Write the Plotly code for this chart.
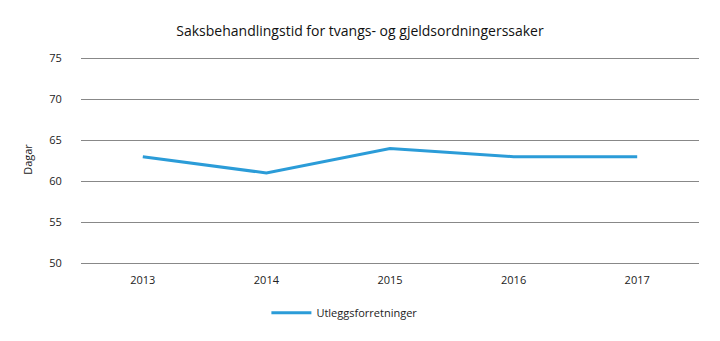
import plotly.graph_objects as go

years = ["2013", "2014", "2015", "2016", "2017"]
utlegg = [63, 61, 64, 63, 63]
y_ticks = [50, 55, 60, 65, 70, 75]

FONT = "Open Sans"

fig = go.Figure()
fig.add_trace(go.Scatter(
    x=years, y=utlegg, mode="lines", name="Utleggsforretninger",
    line=dict(color="#2b9cd8", width=3),
))

fig.update_layout(
    width=720, height=341,
    margin=dict(l=81, r=21, t=56, b=78),
    paper_bgcolor="white", plot_bgcolor="white",
    font=dict(family=FONT, size=11, color="#222"),
    title=dict(text="Saksbehandlingstid for tvangs- og gjeldsordningerssaker",
               x=0.5, xanchor="center", y=0.91, yanchor="middle",
               font=dict(family=FONT, size=14, color="#111")),
    showlegend=True,
    legend=dict(orientation="h", x=0.3, xanchor="left", y=-0.24, yanchor="middle",
                font=dict(family=FONT, size=11, color="#222"), itemwidth=40),
    xaxis=dict(type="category", range=[-0.5, 4.5], showgrid=False,
               showline=True, linecolor="#888", linewidth=1,
               ticks="outside", ticklen=7, tickcolor="rgba(0,0,0,0)",
               tickfont=dict(size=11)),
    yaxis=dict(range=[y_ticks[0], y_ticks[-1] + 0.3], tickvals=y_ticks, showgrid=True,
               gridcolor="#888", gridwidth=1, zeroline=False, showline=False,
               ticks="outside", ticklen=16, tickcolor="rgba(0,0,0,0)",
               title=dict(text="Dagar", standoff=14, font=dict(size=11)),
               tickfont=dict(size=11)),
)

fig.write_html("out.html")
